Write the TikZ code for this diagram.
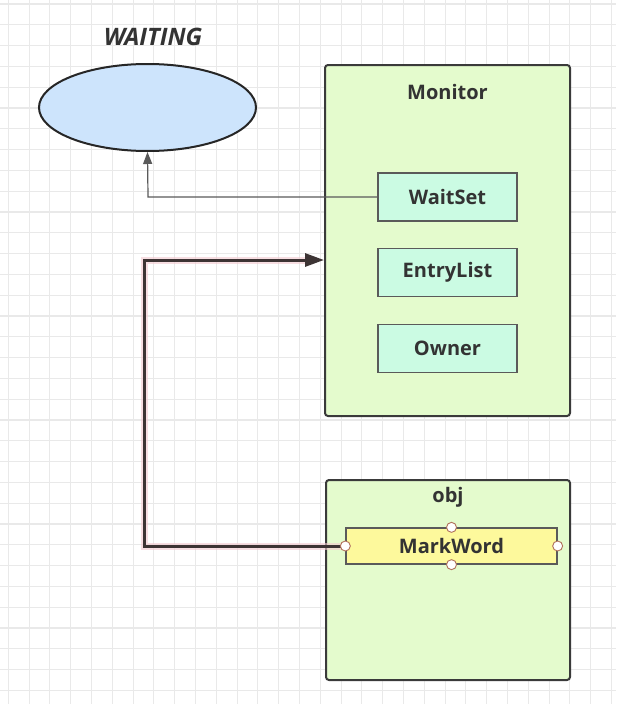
\documentclass[tikz,border=0pt]{standalone}
\usepackage{fontspec}
\setmainfont{Open Sans}
\usetikzlibrary{arrows.meta,shapes.geometric}
\definecolor{gridc}{HTML}{E9E9E9}
\definecolor{boxfill}{HTML}{E4FBCD}
\definecolor{boxline}{HTML}{3A3A3A}
\definecolor{subfill}{HTML}{CBFBE3}
\definecolor{subline}{HTML}{5A5A5A}
\definecolor{markfill}{HTML}{FDF99C}
\definecolor{ellfill}{HTML}{CDE4FC}
\definecolor{thick}{HTML}{3D3434}
\definecolor{glow}{HTML}{F3C9CF}
\definecolor{txt}{HTML}{333333}
\definecolor{handle}{HTML}{B0715A}
\tikzset{
  container/.style={draw=boxline,line width=2pt,fill=boxfill,rounded corners=3pt,inner sep=0pt},
  subbox/.style={draw=subline,line width=1.3pt,fill=subfill,minimum width=139pt,minimum height=48pt,inner sep=0pt,font=\fontsize{20}{22}\selectfont\bfseries,text=txt},
  markbox/.style={draw=subline,line width=1.3pt,fill=markfill,minimum width=211pt,minimum height=36pt,inner sep=0pt,font=\fontsize{20}{22}\selectfont\bfseries,text=txt},
  title/.style={font=\fontsize{20}{22}\selectfont\bfseries,text=txt},
  handlept/.style={circle,draw=handle,fill=white,line width=0.9pt,minimum size=10pt,inner sep=0pt},
  thinarrow/.style={draw=subline,line width=1.2pt,-{Triangle[length=12pt,width=9pt]}},
  thickarrow/.style={draw=thick,line width=3pt,-{Triangle[length=19pt,width=13pt]}},
  glowline/.style={draw=glow,line width=7pt,opacity=0.6},
}
\begin{document}
\begin{tikzpicture}[x=1pt,y=-1pt]
\useasboundingbox (0,0) rectangle (616,704);
\fill[white] (0,0) rectangle (616,704);
% grid
\foreach \i in {0,...,30} {
  \draw[gridc,line width=1.1pt] ({8.3+20.8*\i},0) -- ({8.3+20.8*\i},704);
}
\foreach \j in {0,...,34} {
  \draw[gridc,line width=1.1pt] (0,{4+20.8*\j}) -- (616,{4+20.8*\j});
}
% WAITING ellipse
\node[ellipse,draw=black!85,line width=2pt,fill=ellfill,minimum width=217pt,minimum height=87pt,inner sep=0pt] (wait) at (147.5,107.5) {};
\node[font=\fontsize{24}{26}\selectfont\bfseries\itshape,text=txt] (waitlbl) at (153,37) {WAITING};
% Monitor
\node[container,minimum width=245pt,minimum height=351pt] (mon) at (447.5,240.5) {};
\node[title] (monlbl) at (447.5,92) {Monitor};
\node[subbox] (ws) at (447.5,197) {WaitSet};
\node[subbox] (el) at (447.5,272.5) {EntryList};
\node[subbox] (ow) at (447.5,348.5) {Owner};
% obj
\node[container,minimum width=244pt,minimum height=200pt] (obj) at (448,580) {};
\node[title] (objlbl) at (448,497) {obj};
\node[markbox] (mw) at (451.5,546) {MarkWord};
% connectors
\coordinate (c1) at (148,197);
\draw[thinarrow] (ws.west) -- (c1) -- (wait.south);
\coordinate (c2) at (144.5,546);
\coordinate (c3) at (144.5,260);
\coordinate (c4) at (mon.west |- c3);
\draw[glowline] (mw.west) -- (c2) -- (c3) -- ([xshift=-16pt]c4);
\draw[thickarrow] (mw.west) -- (c2) -- (c3) -- (c4);
% handles
\node[handlept] (h1) at (mw.west) {};
\node[handlept] (h2) at (mw.east) {};
\node[handlept] (h3) at (mw.north) {};
\node[handlept] (h4) at (mw.south) {};
\end{tikzpicture}
\end{document}
